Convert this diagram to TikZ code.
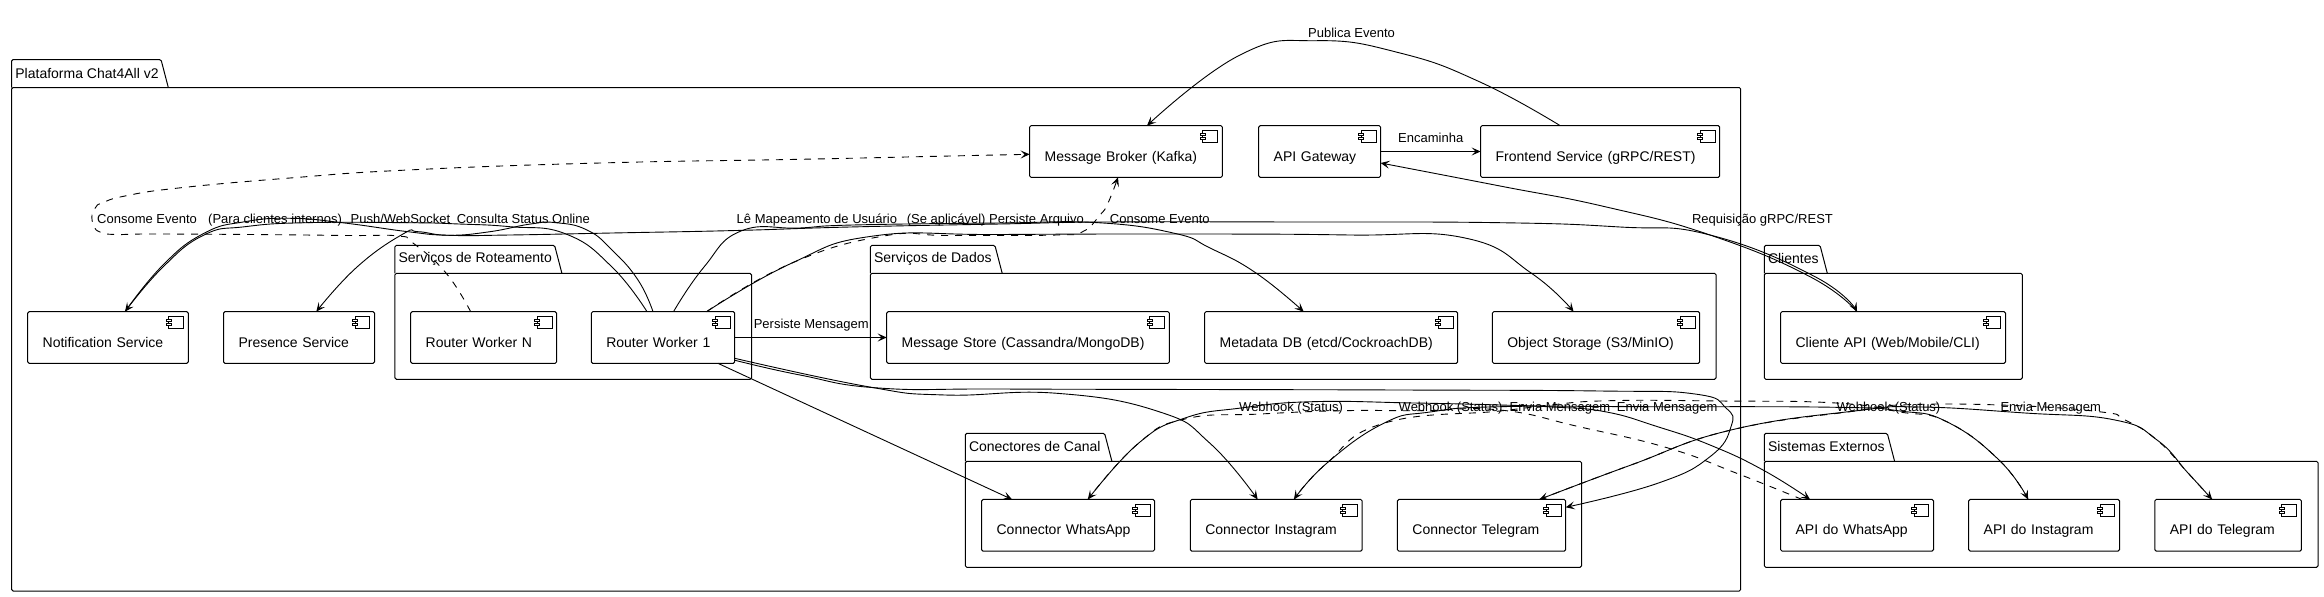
\documentclass[tikz,border=0pt]{standalone}
\usepackage{fontspec}
\setmainfont{Liberation Sans}
\usetikzlibrary{arrows.meta}
\tikzset{
	comp/.style={draw, line width=1pt, rounded corners=1.5pt, fill=white, inner xsep=15pt, inner ysep=0pt, outer sep=0pt, minimum width=#1, text width=#1-30, minimum height=51.7, text height=29, text depth=10, align=left, font=\fontsize{14}{16}\selectfont},
	pkgbody/.style={draw, line width=1pt, rounded corners=1.5pt, inner sep=0pt, outer sep=0pt},
	pkgtab/.style={line width=1pt, rounded corners=1.5pt},
	pkgtitle/.style={anchor=west, inner sep=0pt, font=\fontsize{14}{16}\selectfont},
	lbl/.style={anchor=base west, inner sep=0pt, font=\fontsize{13}{15}\selectfont},
	conn/.style={line width=.9pt, -{Stealth[length=9pt,width=8pt,inset=4pt]}},
	dconn/.style={conn, dash pattern=on 7pt off 7pt},
	icon/.style={line width=.9pt, fill=white},
	curved/.style={smooth, tension=.8}
}
\begin{document}
\begin{tikzpicture}[x=1pt, y=-1pt]
	\useasboundingbox (0,0) rectangle (2324,597);
	\foreach \n/\xa/\xb/\xt/\ya/\yb/\title in {plat/11.7/1740.7/161/87.5/591/Plataforma Chat4All v2, rot/394.9/751.5/554.6/273.3/379.3/Serviços de Roteamento, dados/870.4/1716/994.9/273.3/379.3/Serviços de Dados, canal/965.3/1581.5/1104.6/461.3/567.3/Conectores de Canal, cli/1764.3/2022.3/1820/273.3/379.3/Clientes, ext/1764.3/2318/1887.3/461.3/567.3/Sistemas Externos} {
		\node[pkgbody, minimum width=\xb-\xa, minimum height=\yb-\ya] (\n) at ({(\xa+\xb)/2},{(\ya+\yb)/2}) {};
		\draw[pkgtab] (\n.north west) -- ({\xa},{\ya-28}) -- ({\xt},{\ya-28}) -- ({\xt+7.3},{\ya});
		\node[pkgtitle] (\n title) at ({\xa+3.5},{\ya-14.5}) {\title};
	}
	\node[comp=160.7] (notif) at (108,337.5) {Notification Service};
	\node[comp=151] (presence) at (299,337.5) {Presence Service};
	\node[comp=145.9] (rwn) at (483.65,337.5) {Router Worker N};
	\node[comp=143.4] (rw1) at (663,337.5) {Router Worker 1};
	\node[comp=192.8] (broker) at (1126,151.5) {Message Broker (Kafka)};
	\node[comp=121.9] (gateway) at (1319.65,151.5) {API Gateway};
	\node[comp=239.1] (frontend) at (1600.15,151.5) {Frontend Service (gRPC/REST)};
	\node[comp=282.7] (msgstore) at (1028.05,337.5) {Message Store (Cassandra/MongoDB)};
	\node[comp=253.1] (metadb) at (1331.15,337.5) {Metadata DB (etcd/CockroachDB)};
	\node[comp=207.4] (objstore) at (1596,337.5) {Object Storage (S3/MinIO)};
	\node[comp=224.9] (cliapi) at (1893.05,337.5) {Cliente API (Web/Mobile/CLI)};
	\node[comp=173] (connwa) at (1068.1,525.3) {Connector WhatsApp};
	\node[comp=171.9] (connig) at (1276.25,525.3) {Connector Instagram};
	\node[comp=168.3] (conntg) at (1481.55,525.3) {Connector Telegram};
	\node[comp=152.9] (apiwa) at (1857.05,525.3) {API do WhatsApp};
	\node[comp=150.8] (apiig) at (2044.1,525.3) {API do Instagram};
	\node[comp=146.6] (apitg) at (2228.1,525.3) {API do Telegram};
	\foreach \n in {notif,presence,rwn,rw1,broker,gateway,frontend,msgstore,metadb,objstore,cliapi,connwa,connig,conntg,apiwa,apiig,apitg} {
		\draw[icon] ([shift={(-19.5,5)}]\n.north east) rectangle ([shift={(-4.6,16.5)}]\n.north east);
		\draw[icon] ([shift={(-22,7.5)}]\n.north east) rectangle ([shift={(-17,10)}]\n.north east);
		\draw[icon] ([shift={(-22,11.5)}]\n.north east) rectangle ([shift={(-17,14)}]\n.north east);
	}
	\draw[conn] plot[curved] coordinates {([xshift=-40]frontend.north) (1480,82) (1400,53) (1317,40.7) (1240,55) ([xshift=21]broker.north)};
	\draw[conn] (gateway.east) -- (frontend.west);
	\draw[conn] plot[curved] coordinates {([xshift=-36]cliapi.north) (1810,276.7) (1710,235) (1605,206.7) (1500,186) ([yshift=-11.5]gateway.east)};
	\draw[conn] plot[curved] coordinates {([xshift=17]notif.north) (163,265) (204,233.3) (245,221.7) (291,218.3) (342,222.7) (408,231.7) (449,235.3) (510,235) (612,233) (736,230.5) (850,227) (1000,224) (1108,222) (1300,222) (1500,222.7) (1620,227) (1710,235) (1815,276.7) ([xshift=-36]cliapi.north)};
	\draw[conn] plot[curved] coordinates {([xshift=-16]rw1.north) (612,267) (566,234) (510,226.7) (459,224) (408,222.7) (306,222.7) (245,226.7) (204,235) (163,267) ([xshift=17]notif.north)};
	\draw[conn] plot[curved] coordinates {([xshift=-10]rw1.north) (638,280) (612,250) (587,230) (556,222.7) (530.6,224) (490,231.7) (449,235.3) (418,231.7) (403,234) (357,267) ([xshift=17.3]presence.north)};
	\draw[conn] plot[curved] coordinates {([xshift=10.5]rw1.north) (704,267) (741,231) (800,228) (853,225) (1000,223) (1098,222.7) (1174.5,233.3) (1210,248) (1256,273) ([xshift=-27.5]metadb.north)};
	\draw[conn] plot[curved] coordinates {([xshift=43.6]rw1.north) (792,263) (873.5,236) (1000,234.5) (1200,234) (1350,235) (1465,238) (1531.5,273.3) ([xshift=-22.4]objstore.north)};
	\draw[dconn] plot[curved] coordinates {([xshift=43.6]rw1.north) (792,263) (883.7,236) (950,235.5) (1057,235) (1082.6,231.7) (1100,215) (1108,203) ([xshift=-8]broker.south)};
	\draw[dconn] plot[curved] coordinates {([xshift=-13]rwn.north) (446,273) (413,243) (398,236) (350,235.5) (250,234.5) (150,234) (115,234.5) (100,232) (94,226) (92,215) (96,207) (102,203) (125,196) (178.6,188) (290,178) (408,170) (600,163) (800,159.3) (950,156) ([yshift=-2.8]broker.west)};
	\draw[conn] (rw1.east) -- (msgstore.west);
	\draw[conn] ([xshift=55]rw1.south) -- ([xshift=-56]connwa.north);
	\draw[conn] plot[curved] coordinates {([yshift=-20.8]rw1.east) (868,386.7) (945,395) (1057,393.3) (1159,411.7) (1210,443.3) ([xshift=-18.6]connig.north)};
	\draw[conn] plot[curved] coordinates {([yshift=-22.7]rw1.east) (800,375) (878.6,388) (1000,389) (1200,389.5) (1400,390) (1600,391) (1695,394) (1726,408) (1731,426.7) (1710,456.7) (1657.6,483.3) ([yshift=18]conntg.east)};
	\draw[conn] plot[curved] coordinates {([xshift=19.7]connwa.north) (1138.8,443) (1185,418) (1241,408) (1312,401.7) (1414,403) (1500,405) (1552,407) (1605,411.7) (1657.6,426.7) (1710,445) (1763,470) ([xshift=-47]apiwa.north)};
	\draw[dconn] plot[curved] coordinates {([xshift=-55]apiwa.north) (1736,473) (1668,448) (1579,426.7) (1500,410) (1420,410.7) (1343,410.7) (1260,414) (1185,419) (1138.8,443) ([xshift=19.7]connwa.north)};
	\draw[conn] plot[curved] coordinates {([xshift=17.7]connig.north) (1327,463) (1383.7,423.3) (1430,412) (1500,406.7) (1650,406.7) (1836,407.3) (1900,411) (1946.7,421.7) (1999,460) ([xshift=-16]apiig.north)};
	\draw[dconn] plot[curved] coordinates {([xshift=-16]apiig.north) (1999,460) (1946.7,421.7) (1900,412) (1836,403) (1720,401) (1610,400.7) (1550,405) (1500,411) (1383.7,423.3) (1327,463) ([xshift=17.7]connig.north)};
	\draw[conn] plot[curved] coordinates {([xshift=57.8]conntg.north) (1631,465) (1731,430) (1857,410.7) (1920,407) (2025,413) (2115,420) (2157,440) (2188,473) ([xshift=-16]apitg.north)};
	\draw[dconn] plot[curved] coordinates {([xshift=-16]apitg.north) (2188,473) (2157,440) (2125,420) (2099,411.7) (2000,405) (1900,405) (1857,410.7) (1731,430) (1631,465) ([xshift=57.8]conntg.north)};
	\node[lbl] (l1) at (97,223.5) {Consome Evento};
	\node[lbl] (l2) at (208,223.5) {(Para clientes internos)};
	\node[lbl] (l3) at (350.5,223.5) {Push/WebSocket};
	\node[lbl] (l4) at (456.6,223.5) {Consulta Status Online};
	\node[lbl] (l5) at (736.5,223.5) {Lê Mapeamento de Usuário};
	\node[lbl] (l6) at (906.6,223.5) {(Se aplicável)};
	\node[lbl] (l7) at (989,223.5) {Persiste Arquivo};
	\node[lbl] (l8) at (1109.7,223.5) {Consome Evento};
	\node[lbl] (l9) at (1308,37) {Publica Evento};
	\node[lbl] (l10) at (1398,142) {Encaminha};
	\node[lbl] (l11) at (1691.8,223.3) {Requisição gRPC/REST};
	\node[lbl] (l12) at (753.6,328.5) {Persiste Mensagem};
	\node[lbl] (l13) at (1239,411.3) {Webhook (Status)};
	\node[lbl] (l14) at (1398.5,411.3) {Webhook (Status)};
	\node[lbl] (l15) at (1509.5,411.3) {Envia Mensagem};
	\node[lbl] (l16) at (1616.7,411.3) {Envia Mensagem};
	\node[lbl] (l17) at (1836.3,411.3) {Webhook (Status)};
	\node[lbl] (l18) at (2000.3,411.3) {Envia Mensagem};
\end{tikzpicture}
\end{document}
